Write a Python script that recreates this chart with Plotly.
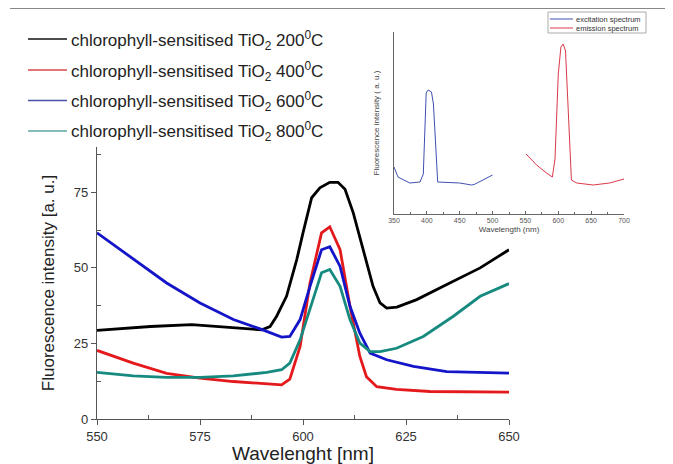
import plotly.graph_objects as go

# Main chart data (wavelength nm, fluorescence a.u.)
x200 = [550, 563, 573, 583, 590, 592, 593.6, 596, 598.5, 600, 602.1, 604.1, 606.5, 608.5, 610.2, 612.2, 614.6, 617, 618.7, 620.3, 622.8, 627.6, 634.9, 643, 650]
y200 = [29.3, 30.6, 31.2, 30.3, 29.5, 30.6, 34, 40.6, 52.8, 61.6, 73.2, 76.5, 78.3, 78.3, 76, 68.2, 56, 43.9, 38.4, 36.7, 37, 39.5, 44.5, 50, 56]

x400 = [550, 558.8, 566.9, 575, 583.1, 594.8, 596.8, 599.3, 601.7, 604.5, 606.5, 609, 611.4, 613.8, 615.4, 617.9, 622.7, 630.8, 650]
y400 = [22.7, 18.5, 15.1, 13.5, 12.4, 11.3, 13.2, 24, 45, 61.6, 63.6, 56, 37.3, 20.7, 14, 10.7, 9.8, 9.1, 8.9]

x600 = [550, 558.8, 566.9, 575, 583.1, 589.6, 594.8, 596.8, 599.3, 601.7, 604.5, 606.5, 609, 611.4, 613.8, 616.3, 620.3, 626.8, 634.9, 650]
y600 = [61.6, 52.8, 45, 38.4, 32.9, 29.8, 27.1, 27.3, 32.9, 43.9, 56, 57, 50.5, 37.3, 28.4, 21.8, 19.6, 17.4, 15.7, 15.2]

x800 = [550, 558.8, 566.9, 575, 583.1, 591.2, 594.8, 596.8, 599.3, 602.1, 604.5, 606.5, 609, 611.4, 613.8, 616.3, 618.7, 622.7, 629.2, 636.5, 643, 650]
y800 = [15.4, 14.3, 13.8, 13.8, 14.3, 15.4, 16.3, 18.5, 26.2, 38.4, 48.4, 49.5, 43.9, 32.9, 25.1, 22.3, 22.3, 23.4, 27.3, 34, 40.6, 44.8]

# Inset data (wavelength nm, relative intensity)
xexc = [350, 356, 374, 389.6, 394.6, 399, 402, 407, 410, 416.5, 450, 468, 472, 486, 500]
yexc = [47, 37, 31, 32, 40, 121, 124, 122, 110, 32, 31, 29, 29.5, 34, 39]
xemi = [551, 567, 582, 591, 595, 600, 604, 607.5, 611, 615, 620, 628, 653, 678, 700]
yemi = [60, 49, 41, 37, 55, 140, 167, 170, 163, 110, 34, 31, 29, 31, 35]

names = ["chlorophyll-sensitised TiO<sub>2</sub> 200<sup>0</sup>C",
         "chlorophyll-sensitised TiO<sub>2</sub> 400<sup>0</sup>C",
         "chlorophyll-sensitised TiO<sub>2</sub> 600<sup>0</sup>C",
         "chlorophyll-sensitised TiO<sub>2</sub> 800<sup>0</sup>C"]
colors = ["#000000", "#e3191c", "#1414c8", "#178a80"]
legend_colors = ["#111111", "#d9474a", "#4a4fa8", "#5aa8a0"]
inset_names = ["excitation spectrum", "emission spectrum"]
inset_colors = ["#4050b0", "#d83a4a"]

FONT = "Arial, Liberation Sans, sans-serif"
OFF = 8            # page body margin
W, H = 673 - OFF, 464 - OFF

fig = go.Figure()
for xs, ys, n, c in zip([x200, x400, x600, x800], [y200, y400, y600, y800], names, colors):
    fig.add_trace(go.Scatter(x=xs, y=ys, name=n, mode="lines",
                             line=dict(color=c, width=2.8), xaxis="x", yaxis="y"))
for xs, ys, n, c in zip([xexc, xemi], [yexc, yemi], inset_names, inset_colors):
    fig.add_trace(go.Scatter(x=xs, y=ys, name=n, mode="lines",
                             line=dict(color=c, width=1), xaxis="x2", yaxis="y2"))

def px(x):
    return (x - OFF) / W

def py(y):
    return 1 - (y - OFF) / H

shapes = [dict(type="line", xref="paper", yref="paper", x0=px(10), x1=1, y0=py(8.5), y1=py(8.5),
               line=dict(color="#888", width=1))]
annotations = []

# main legend (drawn manually)
rows = [39, 70, 100.5, 131]
for r, n, c in zip(rows, names, legend_colors):
    shapes.append(dict(type="line", xref="paper", yref="paper", x0=px(28), x1=px(67),
                       y0=py(r), y1=py(r), line=dict(color=c, width=1.5)))
    annotations.append(dict(xref="paper", yref="paper", x=px(69), y=py(r + 1), text=n,
                            xanchor="left", yanchor="middle", showarrow=False,
                            font=dict(size=17, color="#222", family=FONT)))

# inset legend (drawn manually)
shapes.append(dict(type="rect", xref="paper", yref="paper", x0=px(548), x1=px(646),
                   y0=py(33), y1=py(12), line=dict(color="#aaa", width=1), fillcolor="white",
                   layer="above"))
for r, n, c in zip([19, 28], inset_names, inset_colors):
    shapes.append(dict(type="line", xref="paper", yref="paper", x0=px(550), x1=px(573),
                       y0=py(r), y1=py(r), line=dict(color=c, width=1)))
    annotations.append(dict(xref="paper", yref="paper", x=px(574), y=py(r), text=n,
                            xanchor="left", yanchor="middle", showarrow=False,
                            font=dict(size=7.5, color="#333", family=FONT)))

fig.update_layout(
    width=W, height=H,
    margin=dict(l=0, r=0, t=0, b=0),
    paper_bgcolor="white", plot_bgcolor="white",
    font=dict(family=FONT, color="#222"),
    showlegend=False,
    xaxis=dict(domain=[px(97), px(509)], range=[550, 650], tickvals=[550, 575, 600, 625, 650],
               ticks="outside", ticklen=5, tickcolor="#555", showline=True, linecolor="#555",
               linewidth=1.2, showgrid=False, zeroline=False, automargin=False,
               minor=dict(tickvals=[562.5, 587.5, 612.5, 637.5], ticks="inside", ticklen=4, tickcolor="#555"),
               tickfont=dict(size=13, color="#333"),
               title=dict(text="Wavelenght [nm]", font=dict(size=19, color="#222"), standoff=4),
               anchor="y"),
    yaxis=dict(domain=[py(419), py(147)], range=[0, 90], tickvals=[0, 25, 50, 75],
               ticks="outside", ticklen=5, tickcolor="#555", showline=True, linecolor="#555",
               linewidth=1.2, showgrid=False, zeroline=False, automargin=False,
               minor=dict(tickvals=[12.5, 37.5, 62.5, 87.5], ticks="inside", ticklen=4, tickcolor="#555"),
               tickfont=dict(size=13, color="#333"),
               title=dict(text="Fluorescence intensity [a. u.]", font=dict(size=17, color="#222"), standoff=14),
               anchor="x"),
    xaxis2=dict(domain=[px(394), px(624)], range=[350, 700], tickvals=list(range(350, 701, 50)),
                ticks="inside", ticklen=3, tickcolor="#666", showline=True, linecolor="#666",
                linewidth=1, showgrid=False, zeroline=False, automargin=False,
                minor=dict(tickvals=list(range(375, 700, 50)), ticks="inside", ticklen=2, tickcolor="#666"),
                tickfont=dict(size=7, color="#555"),
                title=dict(text="Wavelength (nm)", font=dict(size=8, color="#444"), standoff=2),
                anchor="y2"),
    yaxis2=dict(domain=[py(214), py(32)], range=[0, 182], showticklabels=False,
                ticks="", showline=True, linecolor="#666", linewidth=1, showgrid=False, zeroline=False,
                automargin=False,
                title=dict(text="Fluorescence intensity ( a. u.)", font=dict(size=8, color="#444"), standoff=12),
                anchor="x2"),
    shapes=shapes,
    annotations=annotations,
)

fig.write_html("out.html")
